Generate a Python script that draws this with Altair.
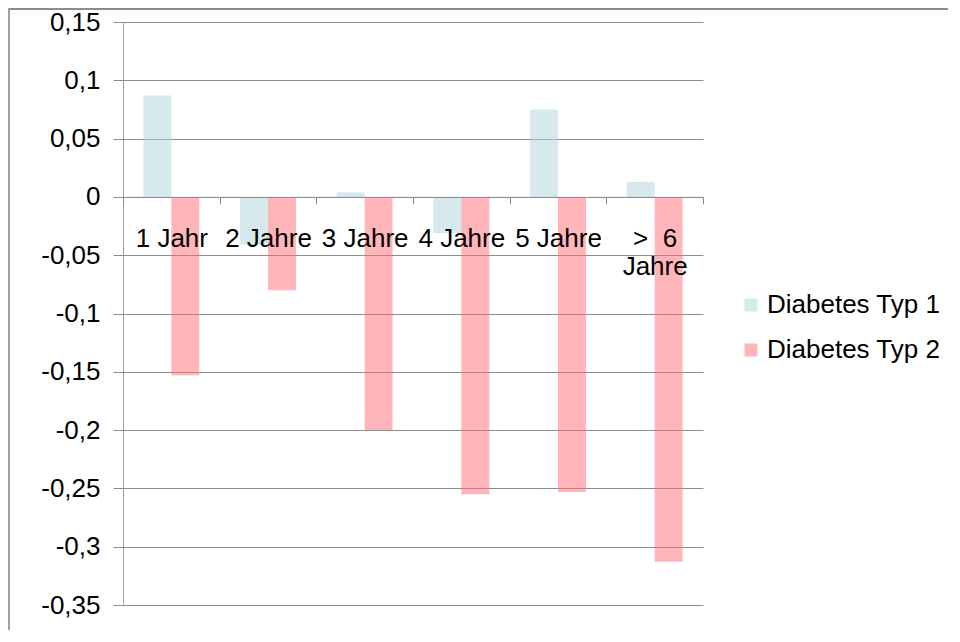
import altair as alt
import pandas as pd

categories = ["1 Jahr", "2 Jahre", "3 Jahre", "4 Jahre", "5 Jahre", ">  6 Jahre"]
series = ["Diabetes Typ 1", "Diabetes Typ 2"]
typ1 = [0.087, -0.041, 0.004, -0.031, 0.075, 0.013]
typ2 = [-0.153, -0.080, -0.200, -0.255, -0.253, -0.313]
y_ticks = [-0.35, -0.3, -0.25, -0.2, -0.15, -0.1, -0.05, 0, 0.05, 0.1, 0.15]
colors = ["#ADD5DB", "#FF6B73"]

rows = []
for i, c in enumerate(categories):
    rows.append({"Kategorie": c, "Serie": series[0], "Wert": typ1[i]})
    rows.append({"Kategorie": c, "Serie": series[1], "Wert": typ2[i]})
df = pd.DataFrame(rows)

W, H = 580, 583
PAD = {"left": 115, "top": 14, "right": 245, "bottom": 25}
FONT = "Liberation Sans"
ZERO_Y = H * 0.15 / 0.5

bars = alt.Chart(df).mark_bar(opacity=0.5).encode(
    x=alt.X(
        "Kategorie:N",
        sort=categories,
        scale=alt.Scale(paddingInner=0, paddingOuter=0),
        axis=alt.Axis(
            title=None,
            orient="bottom",
            offset=-(H - ZERO_Y),
            tickBand="extent",
            labelAngle=0,
            labelFont=FONT,
            labelFontSize=26,
            labelColor="#000000",
            labelPadding=22,
            labelLineHeight=28,
            labelOverlap=False,
            labelBound=False,
            labelExpr="datum.value == '>  6 Jahre' ? ['> \u00a06', 'Jahre'] : datum.label",
            domainColor="#8C8C8C",
            tickColor="#8C8C8C",
            tickSize=7,
            grid=False,
            zindex=1,
        ),
    ),
    xOffset=alt.XOffset(
        "Serie:N", sort=series, scale=alt.Scale(paddingInner=0, paddingOuter=0.732)
    ),
    y=alt.Y(
        "Wert:Q",
        scale=alt.Scale(domain=[-0.35, 0.15], nice=False, zero=False),
        axis=alt.Axis(
            title=None,
            values=y_ticks,
            labelExpr="replace(toString(datum.value), '.', ',')",
            labelFont=FONT,
            labelFontSize=26,
            labelColor="#000000",
            labelPadding=13,
            labelOverlap=False,
            tickSize=10,
            tickColor="#8C8C8C",
            domainColor="#A0A0A0",
            gridColor="#8C8C8C",
            grid=True,
        ),
    ),
    color=alt.Color(
        "Serie:N",
        scale=alt.Scale(domain=series, range=colors),
        legend=alt.Legend(
            title=None,
            orient="none",
            legendX=615,
            legendY=270,
            padding=0,
            symbolType="square",
            symbolSize=169,
            symbolStrokeWidth=0,
            labelFont=FONT,
            labelFontSize=26,
            labelColor="#000000",
            labelOffset=3,
            labelLimit=0,
            rowPadding=19,
        ),
    ),
)

frame_top = alt.Chart(alt.Data(values=[{}])).mark_rule(
    color="#8C8C8C", strokeWidth=2
).encode(x=alt.value(-PAD["left"]), x2=alt.value(W + PAD["right"]), y=alt.value(-13))

frame_left = alt.Chart(alt.Data(values=[{}])).mark_rule(
    color="#A0A0A0", strokeWidth=2
).encode(x=alt.value(-114), y=alt.value(-14), y2=alt.value(H + PAD["bottom"]))

chart = (
    alt.layer(bars, frame_top, frame_left)
    .properties(
        width=W,
        height=H,
        padding=PAD,
        autosize=alt.AutoSizeParams(type="none"),
        background="#FFFFFF",
    )
    .configure_view(stroke=None)
)

chart.save("out.html", embed_options={"renderer": "svg", "actions": False})
